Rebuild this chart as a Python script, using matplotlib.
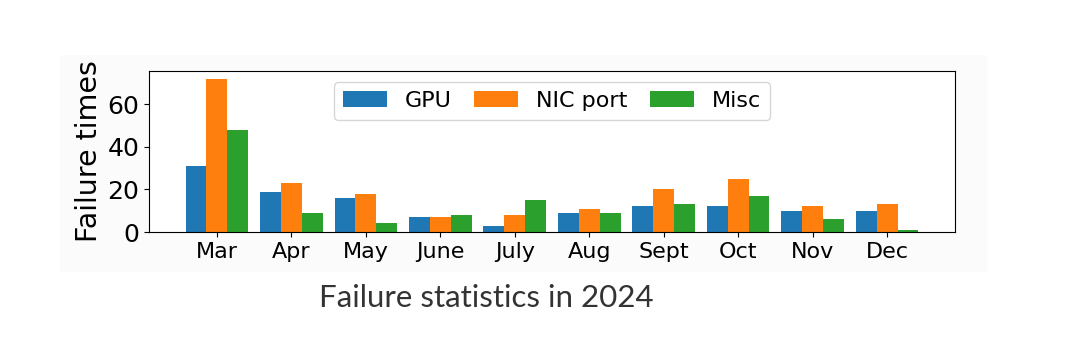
import matplotlib
matplotlib.use("Agg")
import matplotlib.pyplot as plt
import numpy as np
from matplotlib.patches import Rectangle

months = ["Mar", "Apr", "May", "June", "July", "Aug", "Sept", "Oct", "Nov", "Dec"]
gpu = [31, 19, 16, 7, 3, 9, 12, 12, 10, 10]
nic_port = [72, 23, 18, 7, 8, 11, 20, 25, 12, 13]
misc = [48, 9, 4, 8, 15, 9, 13, 17, 6, 1]
series_names = ["GPU", "NIC port", "Misc"]
y_ticks = [0, 20, 40, 60]

fig = plt.figure(figsize=(10.8, 3.57), dpi=100)
fig.patch.set_facecolor("white")
fig.patches.append(Rectangle((60 / 1080, 1 - 272 / 357), (987 - 60) / 1080, (272 - 55) / 357,
                             transform=fig.transFigure, facecolor="#fbfbfb",
                             edgecolor="none", zorder=-5))

ax = fig.add_axes([149 / 1080, 1 - 232 / 357, (955 - 149) / 1080, (232 - 71) / 357])
ax.set_zorder(1)
ax.set_facecolor("white")
x = np.arange(len(months))
w = 0.28
ax.bar(x - w, gpu, w, color="#1f77b4", label=series_names[0])
ax.bar(x, nic_port, w, color="#ff7f0e", label=series_names[1])
ax.bar(x + w, misc, w, color="#2ca02c", label=series_names[2])

ax.set_xticks(x)
ax.set_xticklabels(months, fontsize=16)
ax.set_yticks(y_ticks)
ax.tick_params(axis="y", labelsize=18)
ax.set_ylabel("Failure times", fontsize=20.5, labelpad=3)
ax.legend(loc="upper center", ncol=3, fontsize=16, columnspacing=1.0, borderpad=0.4)

fig.text(0.45, 1 - 298 / 357, "Failure statistics in 2024", fontsize=22.5,
         family="Lato", color="#333333", ha="center", va="center")

fig.savefig("out.png", dpi=100, facecolor="white")
